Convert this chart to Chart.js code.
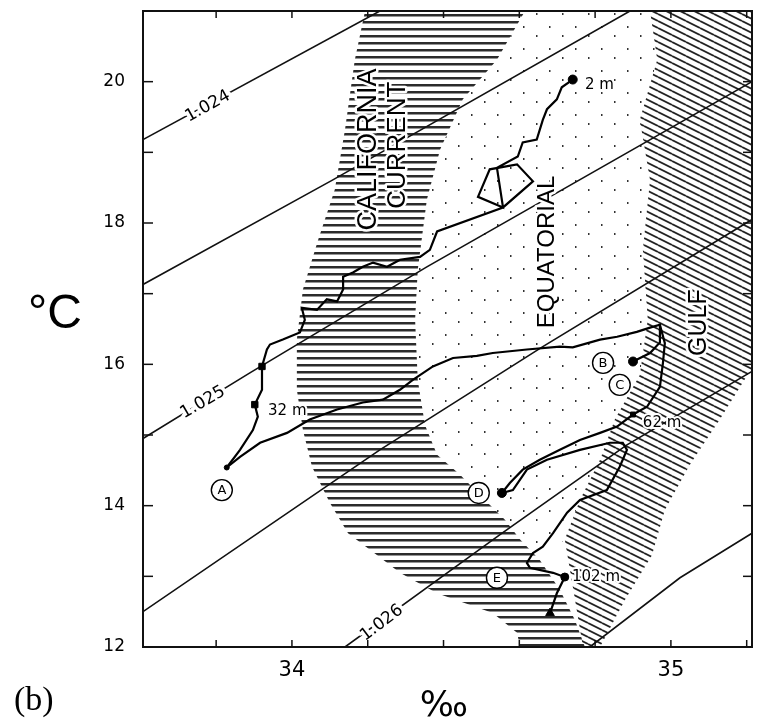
<!DOCTYPE html>
<html>
<head>
<meta charset="utf-8">
<script src="https://cdn.jsdelivr.net/npm/chart.js@4.4.1/dist/chart.umd.min.js"></script>
<style>
    body { margin: 0; background: #fff; }
    canvas { display: block; }
</style>
</head>
<body>
<canvas id="tsPlot" width="759" height="721"></canvas>
<script>
// axis ranges and ticks (salinity in per mille, temperature in deg C)
const salRange = [33.607, 35.214];
const tempRange = [12, 21];
const salTicks = [33.8, 34, 34.2, 34.4, 34.6, 34.8, 35, 35.2];
const salLabels = [34, 35];
const tempTicks = [12, 13, 14, 15, 16, 17, 18, 19, 20, 21];
const tempLabels = [12, 14, 16, 18, 20];

// isopycnals [S, T]
const iso1024 = [[33.607, 19.18], [34.232, 21.0]];
const isoB = [[33.607, 17.13], [34.108, 18.61], [34.892, 21.0]];
const iso1025 = [[33.607, 14.95], [33.889, 15.88], [34.356, 17.38], [35.214, 20.0]];
const isoD = [[33.607, 12.50], [34.232, 14.79], [34.662, 16.25], [35.214, 18.05]];
const iso1026 = [[34.140, 12.0], [34.549, 13.59], [34.884, 14.86], [35.214, 15.90]];
const isoF = [[34.786, 12.0], [35.024, 12.98], [35.214, 13.61]];

// station profiles
const profileA = [[33.828, 14.54], [33.863, 14.79], [33.897, 15.07], [33.910, 15.26], [33.902, 15.43],
    [33.921, 15.64], [33.921, 15.97], [33.934, 16.21], [33.942, 16.28], [33.976, 16.35], [34.021, 16.45],
    [34.034, 16.63], [34.026, 16.80], [34.066, 16.77], [34.092, 16.92], [34.119, 16.89], [34.135, 17.06],
    [34.135, 17.24], [34.161, 17.30], [34.187, 17.38], [34.214, 17.44], [34.251, 17.38], [34.285, 17.48],
    [34.338, 17.52], [34.364, 17.62], [34.383, 17.88], [34.557, 18.22], [34.636, 18.59], [34.594, 18.83],
    [34.522, 18.76], [34.491, 18.37], [34.557, 18.22], [34.541, 18.78], [34.596, 18.94], [34.609, 19.14],
    [34.646, 19.18], [34.662, 19.46], [34.673, 19.61], [34.699, 19.75], [34.712, 19.92], [34.741, 20.03]];
const profileB = [[33.828, 14.54], [33.863, 14.69], [33.916, 14.89], [33.987, 15.03], [34.047, 15.22],
    [34.119, 15.36], [34.187, 15.46], [34.240, 15.50], [34.285, 15.64], [34.319, 15.78], [34.372, 15.97],
    [34.425, 16.09], [34.488, 16.12], [34.530, 16.16], [34.620, 16.21], [34.707, 16.25], [34.741, 16.24],
    [34.813, 16.35], [34.858, 16.39], [34.910, 16.46], [34.945, 16.52], [34.971, 16.56], [34.971, 16.31],
    [34.945, 16.16], [34.900, 16.04]];
const profileC = [[34.971, 16.56], [34.984, 16.30], [34.979, 16.02], [34.971, 15.68], [34.937, 15.40],
    [34.900, 15.29], [34.858, 15.12], [34.813, 15.03], [34.760, 14.93], [34.707, 14.79], [34.654, 14.65],
    [34.609, 14.51], [34.575, 14.32], [34.554, 14.18]];
const profileD = [[34.554, 14.18], [34.583, 14.22], [34.620, 14.51], [34.673, 14.65], [34.760, 14.79],
    [34.839, 14.89], [34.873, 14.89], [34.884, 14.79], [34.865, 14.55], [34.831, 14.22], [34.760, 14.08],
    [34.726, 13.90], [34.689, 13.61], [34.662, 13.42], [34.636, 13.33], [34.620, 13.19], [34.628, 13.12],
    [34.689, 13.05], [34.720, 12.99], [34.699, 12.76], [34.681, 12.48]];
const markerPts = [[33.902, 15.43], [33.921, 15.97], [34.741, 20.03], [34.900, 16.04], [34.554, 14.18],
    [34.720, 12.99], [33.828, 14.54], [34.900, 15.29], [34.681, 12.48]];

// water mass outlines
const californiaZone = [[34.193, 21.0], [34.166, 20.31], [34.140, 19.32], [34.113, 18.47], [34.069, 17.76],
    [34.029, 17.06], [34.013, 16.35], [34.013, 15.64], [34.029, 15.07], [34.053, 14.55], [34.100, 14.04],
    [34.148, 13.61], [34.232, 13.27], [34.285, 13.05], [34.383, 12.76], [34.530, 12.48], [34.594, 12.20],
    [34.602, 12.0], [34.773, 12.0], [34.747, 12.38], [34.707, 12.81], [34.654, 13.23], [34.602, 13.52],
    [34.562, 13.80], [34.496, 14.15], [34.443, 14.44], [34.383, 14.72], [34.351, 15.14], [34.332, 15.78],
    [34.325, 16.63], [34.332, 17.34], [34.356, 18.33], [34.391, 19.04], [34.451, 19.75], [34.541, 20.31],
    [34.615, 21.0]];
const gulfZone = [[34.945, 21.0], [35.214, 21.0], [35.214, 15.95], [35.129, 15.22], [35.050, 14.58],
    [34.984, 13.94], [34.950, 13.30], [34.879, 12.67], [34.813, 12.0], [34.768, 12.0], [34.747, 12.67],
    [34.720, 13.52], [34.760, 14.08], [34.813, 14.65], [34.852, 15.22], [34.918, 15.85], [34.939, 16.63],
    [34.926, 17.62], [34.945, 18.61], [34.918, 19.46], [34.964, 20.31]];
const equatorialZone = [[34.615, 21.0], [34.541, 20.31], [34.451, 19.75], [34.391, 19.04], [34.356, 18.33],
    [34.332, 17.34], [34.325, 16.63], [34.332, 15.78], [34.351, 15.14], [34.383, 14.72], [34.443, 14.44],
    [34.496, 14.15], [34.562, 13.80], [34.602, 13.52], [34.654, 13.23], [34.720, 13.52], [34.760, 14.08],
    [34.813, 14.65], [34.852, 15.22], [34.918, 15.85], [34.939, 16.63], [34.926, 17.62], [34.945, 18.61],
    [34.918, 19.46], [34.964, 20.31], [34.945, 21.0]];

// annotations
const stationNames = ['A', 'B', 'C', 'D', 'E'];
const stationPos = [[33.815, 14.22], [34.821, 16.02], [34.865, 15.71], [34.493, 14.18], [34.541, 12.98]];
const depthNames = ['2 m', '32 m', '62 m', '102 m'];
const depthPos = [[34.773, 19.95], [33.937, 15.34], [34.926, 15.17], [34.739, 12.99]];
const isoNames = ['1.024', '1.025', '1.026'];
const isoPos = [[33.778, 19.65], [33.765, 15.46], [34.237, 12.34]];
const massNames = ['CALIFORNIA', 'CURRENT', 'EQUATORIAL', 'GULF'];
const massPos = [[34.203, 19.04], [34.280, 19.10], [34.675, 17.59], [35.074, 16.59]];

const toXY = arr => arr.map(p => ({x: p[0], y: p[1]}));

const canvas = document.getElementById('tsPlot');
const ctx = canvas.getContext('2d');

function makePattern(w, h, draw) {
    const c = document.createElement('canvas');
    c.width = w;
    c.height = h;
    draw(c.getContext('2d'));
    return ctx.createPattern(c, 'repeat');
}

const hLines = makePattern(8, 7, g => {
    g.fillStyle = '#2b2b2b';
    g.fillRect(0, 0, 8, 2.5);
});
const diagLines = makePattern(14, 7, g => {
    g.strokeStyle = '#222';
    g.lineWidth = 1.8;
    for (let k = -1; k <= 1; k++) {
        g.beginPath();
        g.moveTo(0, k * 7);
        g.lineTo(14, k * 7 + 7);
        g.stroke();
    }
});
const dots = makePattern(26, 22, g => {
    g.fillStyle = '#333';
    g.fillRect(3, 4, 1.5, 2);
    g.fillRect(16, 13, 1.5, 2);
});

function isoSet(arr) {
    return {data: toXY(arr), borderColor: '#111', borderWidth: 1.6, pointRadius: 0, fill: false, order: 5};
}
function profileSet(arr) {
    return {data: toXY(arr), borderColor: '#000', borderWidth: 2.2, pointRadius: 0, fill: false, order: 3};
}
function zoneSet(arr, pattern) {
    return {data: toXY(arr), backgroundColor: pattern, borderWidth: 0, pointRadius: 0, fill: 'shape', order: 10};
}
function noPad(s) {
    s.paddingTop = 0;
    s.paddingBottom = 0;
    s.paddingLeft = 0;
    s.paddingRight = 0;
}

// plugin: frame, inward ticks and all annotations
const decorations = {
    id: 'decorations',
    afterDatasetsDraw(chart) {
        const {ctx, scales: {x, y}} = chart;
        const px = s => x.getPixelForValue(s);
        const py = t => y.getPixelForValue(t);
        ctx.save();
        ctx.fillStyle = '#000';
        ctx.strokeStyle = '#fff';
        ctx.lineJoin = 'round';

        // isopycnal labels
        const isoAngles = [-29, -30, -37];
        ctx.font = '17px "DejaVu Sans"';
        ctx.textAlign = 'center';
        ctx.textBaseline = 'middle';
        isoNames.forEach((t, i) => {
            ctx.save();
            ctx.translate(px(isoPos[i][0]), py(isoPos[i][1]));
            ctx.rotate(isoAngles[i] * Math.PI / 180);
            ctx.lineWidth = 7;
            ctx.strokeText(t, 0, 0);
            ctx.fillText(t, 0, 0);
            ctx.restore();
        });

        // water mass labels
        const massFonts = ['27px "Liberation Sans"', '26px "Liberation Sans"', '24px "Liberation Sans"', '25px "Liberation Sans"'];
        massNames.forEach((t, i) => {
            ctx.save();
            ctx.font = massFonts[i];
            ctx.translate(px(massPos[i][0]), py(massPos[i][1]));
            ctx.rotate(-Math.PI / 2);
            ctx.lineWidth = 5;
            ctx.strokeText(t, 0, 0);
            ctx.fillText(t, 0, 0);
            ctx.restore();
        });

        // depth labels
        ctx.font = '15px "DejaVu Sans"';
        ctx.textAlign = 'left';
        depthNames.forEach((t, i) => {
            ctx.lineWidth = 4;
            ctx.strokeText(t, px(depthPos[i][0]), py(depthPos[i][1]));
            ctx.fillText(t, px(depthPos[i][0]), py(depthPos[i][1]));
        });

        // station letters (circles drawn by the dataset)
        ctx.font = '13px "DejaVu Sans"';
        ctx.textAlign = 'center';
        stationNames.forEach((t, i) => {
            ctx.fillText(t, px(stationPos[i][0]), py(stationPos[i][1]) + 1);
        });
        ctx.restore();
    },
    afterDraw(chart) {
        const {ctx, chartArea: a, scales: {x, y}} = chart;
        ctx.save();
        ctx.strokeStyle = '#111';
        ctx.lineWidth = 2;
        ctx.strokeRect(a.left, a.top, a.right - a.left, a.bottom - a.top);
        ctx.lineWidth = 1.5;
        const seg = (x1, y1, x2, y2) => {
            ctx.beginPath();
            ctx.moveTo(x1, y1);
            ctx.lineTo(x2, y2);
            ctx.stroke();
        };
        tempTicks.forEach(t => {
            const p = y.getPixelForValue(t);
            seg(a.left, p, a.left + 10, p);
            seg(a.right, p, a.right - 9, p);
        });
        salTicks.forEach(s => {
            const p = x.getPixelForValue(s);
            seg(p, a.bottom, p, a.bottom - 7);
            seg(p, a.top, p, a.top + 7);
        });

        // axis titles and panel tag
        ctx.fillStyle = '#000';
        ctx.textBaseline = 'alphabetic';
        ctx.textAlign = 'left';
        ctx.font = '48px "Liberation Sans"';
        ctx.fillText('°C', 28, 328);
        ctx.textAlign = 'center';
        ctx.font = '36px "DejaVu Sans"';
        ctx.fillText('‰', 444, 716);
        ctx.textAlign = 'left';
        ctx.font = '34px "Liberation Serif"';
        ctx.fillText('(b)', 14, 710);
        ctx.restore();
    }
};

const tsChart = new Chart(ctx, {
    type: 'line',
    data: {
        datasets: [
            {
                data: toXY(stationPos),
                showLine: false,
                pointRadius: 10.5,
                pointBackgroundColor: '#fff',
                pointBorderColor: '#000',
                pointBorderWidth: 1.4,
                order: 0
            },
            {
                data: toXY(markerPts),
                showLine: false,
                pointStyle: ['rect', 'rect', 'circle', 'circle', 'circle', 'circle', 'circle', 'rect', 'triangle'],
                pointRadius: [4.5, 4.5, 4.5, 4.5, 4.5, 4, 2.5, 3.5, 5],
                pointBackgroundColor: '#000',
                pointBorderColor: '#000',
                order: 1
            },
            profileSet(profileA),
            profileSet(profileB),
            profileSet(profileC),
            profileSet(profileD),
            isoSet(iso1024),
            isoSet(isoB),
            isoSet(iso1025),
            isoSet(isoD),
            isoSet(iso1026),
            isoSet(isoF),
            zoneSet(equatorialZone, dots),
            zoneSet(gulfZone, diagLines),
            zoneSet(californiaZone, hLines)
        ]
    },
    options: {
        responsive: false,
        animation: false,
        events: [],
        layout: {
            autoPadding: false,
            padding: {top: 11, right: 7, left: 0, bottom: 0}
        },
        elements: {
            line: {tension: 0}
        },
        plugins: {
            legend: {display: false},
            tooltip: {enabled: false},
            title: {display: false}
        },
        scales: {
            x: {
                type: 'linear',
                min: salRange[0],
                max: salRange[1],
                grid: {display: false, drawTicks: false},
                border: {display: false},
                afterBuildTicks: s => { s.ticks = salLabels.map(v => ({value: v})); },
                afterFit: s => { s.height = 74; noPad(s); },
                ticks: {
                    color: '#000',
                    padding: 11,
                    maxRotation: 0,
                    font: {family: 'DejaVu Sans', size: 21}
                }
            },
            y: {
                type: 'linear',
                min: tempRange[0],
                max: tempRange[1],
                grid: {display: false, drawTicks: false},
                border: {display: false},
                afterBuildTicks: s => { s.ticks = tempLabels.map(v => ({value: v})); },
                afterFit: s => { s.width = 143; noPad(s); },
                ticks: {
                    color: '#000',
                    padding: 18,
                    font: {family: 'DejaVu Sans', size: 17}
                }
            }
        }
    },
    plugins: [decorations]
});
</script>
</body>
</html>
